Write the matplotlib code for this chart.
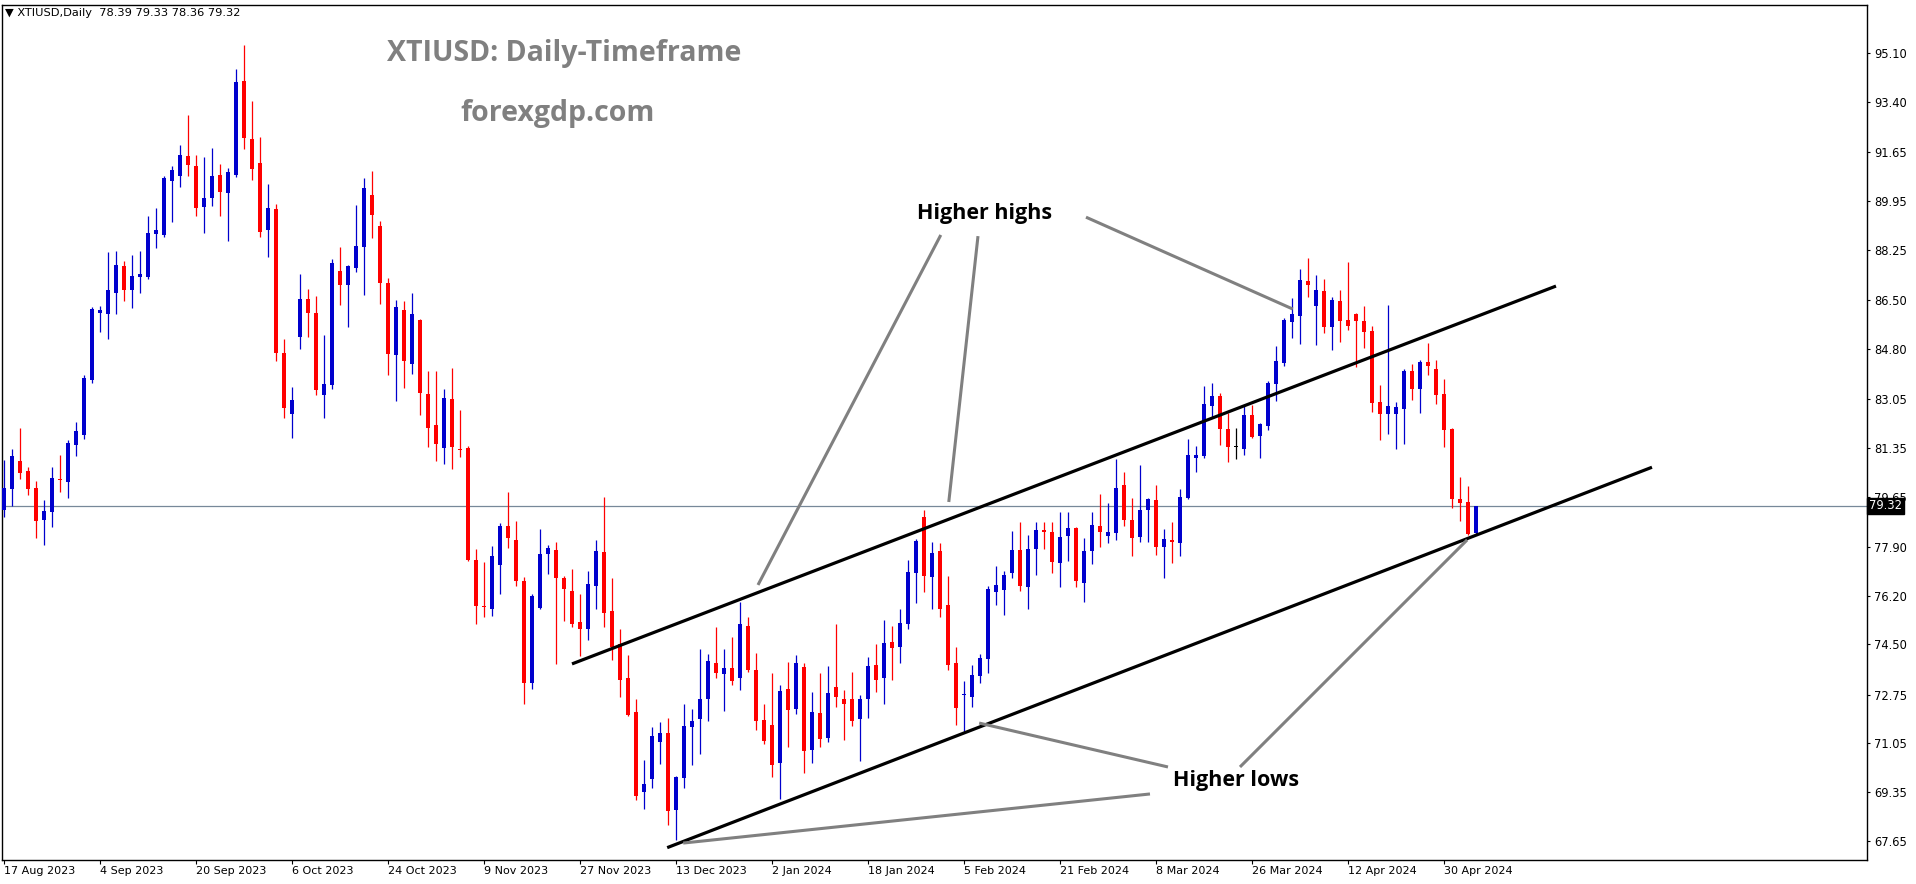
import matplotlib
matplotlib.use('Agg')
import matplotlib.pyplot as plt
from matplotlib import font_manager

# ---- data ----
opens = [79.18, 79.92, 80.89, 80.54, 79.95, 78.83, 79.10, 80.25, 80.17, 81.44,
         81.80, 83.71, 86.05, 86.01, 86.75, 87.68, 86.84, 87.31, 87.31, 88.79,
         88.77, 90.65, 90.82, 91.51, 91.16, 89.74, 90.06, 90.85, 90.23, 90.85,
         94.12, 92.10, 91.27, 88.94, 89.66, 84.66, 82.51, 85.22, 86.53, 86.04,
         83.20, 83.55, 87.51, 87.03, 87.62, 88.35, 90.15, 89.07, 87.10, 84.59,
         86.15, 84.27, 85.80, 83.22, 82.14, 81.33, 83.05, 81.32, 81.35, 77.45,
         75.84, 75.73, 77.26, 78.62, 78.15, 76.72, 73.17, 75.78, 77.66, 77.78,
         76.82, 76.35, 75.27, 75.05, 76.54, 77.71, 75.66, 74.51, 73.33, 72.15,
         69.37, 69.82, 71.11, 71.41, 68.74, 69.86, 71.62, 71.90, 72.60, 73.85,
         73.47, 73.68, 73.33, 75.14, 73.61, 71.87, 71.69, 70.37, 72.95, 72.25,
         73.71, 70.82, 72.11, 71.24, 73.02, 72.60, 72.60, 71.90, 72.60, 73.78,
         73.33, 74.58, 74.41, 75.21, 76.99, 78.94, 76.85, 77.75, 75.87, 73.84,
         72.72, 72.68, 73.40, 74.00, 76.33, 76.39, 76.99, 77.79, 76.50, 77.82,
         78.48, 78.41, 77.33, 78.28, 78.55, 76.64, 77.75, 78.62, 78.28, 78.38,
         80.05, 78.83, 78.24, 79.18, 79.53, 77.89, 78.12, 78.03, 79.60, 81.00,
         81.06, 82.80, 83.15, 82.00, 81.36, 81.32, 82.49, 81.76, 82.12, 83.58,
         84.31, 85.74, 85.95, 87.16, 86.30, 86.81, 85.56, 86.46, 85.80, 86.01,
         85.76, 85.41, 82.94, 82.53, 82.53, 82.71, 84.03, 83.38, 84.33, 84.09,
         83.22, 82.00, 79.57, 79.46, 78.39]
highs = [80.92, 81.29, 82.05, 80.69, 80.18, 79.53, 80.67, 81.10, 81.62, 82.26,
         83.88, 86.26, 86.30, 88.18, 88.21, 87.86, 88.06, 88.20, 89.42, 89.70,
         90.82, 91.16, 91.89, 92.94, 91.54, 91.48, 91.79, 91.23, 91.08, 94.54,
         95.37, 93.42, 92.17, 90.53, 89.84, 85.14, 83.45, 87.40, 86.88, 86.64,
         85.28, 87.91, 88.35, 87.72, 89.82, 90.75, 90.99, 89.24, 87.26, 86.51,
         86.46, 86.74, 85.84, 84.02, 84.02, 83.39, 84.13, 82.65, 81.42, 77.82,
         77.38, 77.93, 78.73, 79.82, 78.79, 76.85, 76.26, 78.53, 77.95, 78.05,
         76.87, 77.13, 76.25, 77.06, 78.15, 79.65, 76.80, 75.05, 74.13, 72.60,
         70.47, 71.62, 71.80, 71.94, 69.90, 72.42, 72.25, 74.34, 74.17, 75.11,
         74.34, 74.76, 75.98, 75.45, 74.20, 72.42, 73.50, 73.09, 73.89, 74.13,
         73.85, 72.84, 73.50, 73.75, 75.21, 72.91, 73.54, 72.74, 74.06, 74.51,
         75.35, 75.14, 75.73, 77.44, 78.17, 79.18, 78.07, 78.03, 76.88, 74.42,
         73.23, 73.78, 74.17, 76.53, 77.23, 77.06, 78.45, 78.76, 78.31, 78.76,
         78.76, 78.76, 79.11, 79.11, 78.59, 78.21, 79.11, 79.74, 79.42, 80.96,
         80.50, 79.60, 80.75, 79.60, 80.05, 78.52, 78.76, 79.91, 81.65, 81.41,
         83.50, 83.60, 83.26, 82.56, 82.04, 82.84, 82.84, 82.20, 83.67, 84.89,
         85.86, 86.55, 87.57, 87.97, 87.37, 87.23, 86.61, 86.84, 87.82, 86.05,
         86.29, 85.59, 83.53, 86.32, 82.94, 84.08, 84.27, 84.40, 85.00, 84.40,
         83.74, 82.02, 80.33, 80.02, 79.33]
lows = [78.93, 79.32, 80.27, 79.71, 78.20, 77.95, 78.60, 79.82, 79.59, 81.07,
        81.66, 83.61, 85.39, 85.14, 86.01, 86.47, 86.23, 86.75, 87.24, 88.31,
        88.70, 89.22, 90.44, 90.82, 89.42, 88.84, 89.78, 89.43, 88.56, 90.79,
        91.74, 90.67, 88.70, 88.00, 84.38, 82.37, 81.70, 84.80, 85.22, 83.20,
        82.39, 83.41, 86.32, 85.55, 87.48, 86.68, 88.67, 86.37, 83.89, 82.99,
        83.44, 83.92, 82.50, 81.39, 80.90, 80.77, 80.62, 81.02, 77.42, 75.22,
        75.46, 75.50, 76.26, 77.85, 76.53, 72.42, 72.96, 75.73, 76.96, 73.82,
        75.33, 75.12, 74.09, 74.66, 75.72, 75.09, 73.96, 72.66, 72.00, 69.08,
        68.77, 69.51, 70.35, 68.22, 67.69, 69.51, 70.30, 70.68, 71.83, 73.33,
        72.18, 73.10, 72.91, 73.54, 71.52, 71.03, 69.89, 69.12, 70.93, 72.08,
        70.02, 70.37, 70.93, 71.10, 72.32, 71.17, 71.66, 70.44, 71.94, 72.84,
        72.42, 73.26, 73.85, 75.04, 75.94, 76.32, 75.73, 75.45, 73.61, 71.69,
        71.46, 72.33, 73.17, 73.52, 75.87, 75.52, 76.81, 76.37, 75.73, 76.92,
        77.82, 76.99, 76.50, 77.40, 76.50, 75.98, 77.30, 77.89, 78.03, 78.14,
        78.62, 77.58, 78.07, 78.07, 77.61, 76.81, 77.33, 77.58, 79.56, 80.50,
        81.00, 82.42, 81.44, 80.85, 80.96, 81.10, 81.70, 81.00, 81.97, 82.99,
        84.20, 85.18, 84.97, 86.61, 84.94, 85.33, 84.76, 85.04, 85.45, 84.17,
        84.83, 82.60, 81.62, 81.84, 81.31, 81.49, 83.02, 82.57, 83.88, 82.88,
        81.39, 79.26, 78.81, 78.31, 78.36]
closes = [79.94, 81.06, 80.48, 79.92, 78.81, 79.15, 80.28, 80.21, 81.50, 81.93,
          83.78, 86.18, 86.15, 86.84, 87.71, 86.84, 87.33, 87.40, 88.83, 88.93,
          90.74, 91.02, 91.54, 91.21, 89.71, 90.05, 90.81, 90.27, 90.95, 94.10,
          92.15, 91.07, 88.87, 89.70, 84.66, 82.74, 83.01, 86.53, 86.05, 83.37,
          83.57, 87.78, 87.03, 87.68, 88.37, 90.39, 89.47, 87.10, 84.63, 86.24,
          84.38, 86.00, 83.27, 82.02, 81.49, 83.08, 81.39, 81.28, 77.45, 75.85,
          75.80, 77.59, 78.62, 78.22, 76.72, 73.17, 76.18, 77.66, 77.86, 76.82,
          76.42, 75.22, 75.05, 76.61, 77.75, 75.59, 74.42, 73.27, 72.05, 69.23,
          69.64, 71.31, 71.41, 68.71, 69.88, 71.66, 71.83, 72.60, 73.92, 73.50,
          73.68, 73.23, 75.21, 73.61, 71.84, 71.15, 70.30, 72.88, 72.22, 73.85,
          70.79, 72.15, 71.21, 72.81, 72.67, 72.42, 71.83, 72.60, 73.75, 73.26,
          74.55, 74.37, 75.25, 77.02, 78.10, 76.88, 77.68, 75.73, 73.78, 72.30,
          72.78, 73.42, 74.03, 76.43, 76.57, 76.92, 77.79, 76.53, 77.82, 78.48,
          78.41, 77.37, 78.24, 78.55, 76.71, 77.75, 78.66, 78.41, 78.41, 79.95,
          78.83, 78.21, 79.18, 79.56, 77.89, 78.17, 78.08, 79.63, 81.10, 81.10,
          82.87, 83.15, 82.00, 81.37, 81.36, 82.49, 81.73, 82.18, 83.61, 84.37,
          85.80, 86.01, 87.19, 87.03, 86.84, 85.56, 86.49, 85.77, 85.59, 85.77,
          85.39, 82.92, 82.53, 82.80, 82.78, 84.03, 83.41, 84.33, 84.21, 83.20,
          81.98, 79.55, 79.43, 78.34, 79.32]

date_labels = ['17 Aug 2023', '4 Sep 2023', '20 Sep 2023', '6 Oct 2023', '24 Oct 2023',
               '9 Nov 2023', '27 Nov 2023', '13 Dec 2023', '2 Jan 2024', '18 Jan 2024',
               '5 Feb 2024', '21 Feb 2024', '8 Mar 2024', '26 Mar 2024', '12 Apr 2024',
               '30 Apr 2024']
date_bars = [0, 12, 24, 36, 48, 60, 72, 84, 96, 108, 120, 132, 144, 156, 168, 180]
price_labels = ['95.10', '93.40', '91.65', '89.95', '88.25', '86.50', '84.80', '83.05',
                '81.35', '79.65', '77.90', '76.20', '74.50', '72.75', '71.05', '69.35', '67.65']
last_price = 79.32

# channel lines (bar index, price)
upper_channel = [(71.0, 73.82), (194.0, 86.98)]
lower_channel = [(82.9, 67.42), (206.0, 80.67)]
# pointer lines for the annotations
highs_pointers = [[(117.1, 88.76), (94.25, 76.57)],
                  [(121.75, 88.72), (118.1, 79.46)],
                  [(135.25, 89.38), (161.1, 86.18)]]
lows_pointers = [[(121.9, 71.76), (145.5, 70.23)],
                 [(84.9, 67.58), (143.25, 69.29)],
                 [(154.5, 70.23), (182.9, 78.14)]]


def pick_font(names):
    have = {f.name for f in font_manager.fontManager.ttflist}
    for n in names:
        if n in have:
            return n
    return 'DejaVu Sans'


narrow = pick_font(['Liberation Sans Narrow', 'Open Sans', 'DejaVu Sans'])

W, H = 1916, 884
fig = plt.figure(figsize=(W / 100, H / 100), dpi=100)
ax = fig.add_axes([2 / W, (H - 860) / H, (1866.7 - 2) / W, (860 - 5) / H])

BULL = '#0000CD'
BEAR = '#FF0000'

for i, (o, h, l, c) in enumerate(zip(opens, highs, lows, closes)):
    if c > o:
        col = BULL
    elif c < o:
        col = BEAR
    else:
        col = 'black'
    ax.vlines(i, l, h, color=col, linewidth=0.9, zorder=2)
    body = max(abs(c - o), 0.035)
    ax.bar(i, body, bottom=min(o, c), width=0.62, color=col, linewidth=0, zorder=3)

# current price line
ax.axhline(last_price, color='#778899', linewidth=0.9, zorder=1)

# channel
for seg in (upper_channel, lower_channel):
    ax.plot([seg[0][0], seg[1][0]], [seg[0][1], seg[1][1]], color='black',
            linewidth=2.3, solid_capstyle='butt', zorder=4)

for seg in highs_pointers + lows_pointers:
    ax.plot([seg[0][0], seg[1][0]], [seg[0][1], seg[1][1]], color='#808080',
            linewidth=2.2, solid_capstyle='butt', zorder=4)

ax.text(122.6, 89.52, 'Higher highs', ha='center', va='center', fontsize=15.5,
        fontweight='bold', family=narrow, color='black', zorder=5)
ax.text(154.0, 69.75, 'Higher lows', ha='center', va='center', fontsize=15.5,
        fontweight='bold', family=narrow, color='black', zorder=5)

ax.set_xlim(-0.25, 232.84)
ax.set_ylim(66.99, 96.77)

ax.yaxis.tick_right()
ax.set_yticks([float(p) for p in price_labels])
ax.set_yticklabels(price_labels)
ax.set_xticks(date_bars)
ax.set_xticklabels(date_labels, ha='left')
ax.tick_params(axis='y', direction='out', length=2.5, width=0.8, pad=3,
               labelsize=8.3, colors='black')
ax.tick_params(axis='x', direction='out', length=3, width=0.8, pad=1,
               labelsize=8, colors='black')
for sp in ax.spines.values():
    sp.set_linewidth(1.0)
    sp.set_color('black')

# price tag on the axis
fig.text(1869 / W, 1 - 506 / H, '79.32', color='white', fontsize=8.3, ha='left', va='center',
         bbox=dict(facecolor='black', edgecolor='black', pad=1.2))

# header and watermark
fig.text(5 / W, 1 - 13 / H, '\u25bc XTIUSD,Daily  78.39 79.33 78.36 79.32', fontsize=8.2,
         ha='left', va='center', color='black', family=['DejaVu Sans'])
fig.text(564 / W, 1 - 54 / H, 'XTIUSD: Daily-Timeframe', fontsize=20.5, fontweight='bold',
         family=narrow, color='#808080', ha='center', va='center')
fig.text(558 / W, 1 - 113 / H, 'forexgdp.com', fontsize=20.5, fontweight='bold',
         family=narrow, color='#808080', ha='center', va='center')

fig.savefig('out.png', dpi=100)
